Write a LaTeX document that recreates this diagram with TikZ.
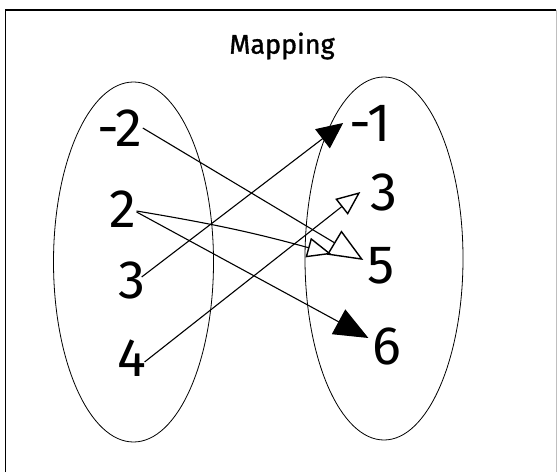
\documentclass[tikz,border=0pt]{standalone}
\usepackage{fontspec}
\setmainfont{Fira Sans}
\newfontfamily\titlefont[FakeBold=1.2]{Fira Sans}
\usetikzlibrary{arrows.meta}
\begin{document}
\begin{tikzpicture}[x=1pt,y=1pt,
  digit/.style={inner sep=0pt, font=\fontsize{54}{60}\selectfont},
  mapline/.style={line width=1.1pt},
  opentip/.style={-{Triangle[open, length=34pt, width=28pt, line width=1.4pt]}},
  opensmall/.style={-{Triangle[open, length=24pt, width=20pt, line width=1.4pt]}},
  filltip/.style={-{Triangle[length=34pt, width=28pt]}},
  fillsmall/.style={-{Triangle[length=26pt, width=24pt]}}
]
\useasboundingbox (0,0) rectangle (559,472);
\fill[white] (0,0) rectangle (559,472);
% frame
\draw[line width=1.2pt] (5.5,0) -- (5.5,462) -- (556,462);
\draw[line width=0.4pt, black!25] (556,462) -- (556,0);
% title
\node (title) at (282,426) {\titlefont\fontsize{27}{30}\selectfont Mapping};
% sets
\draw[line width=0.8pt] (133.5,210) ellipse [x radius=80, y radius=180];
\draw[line width=0.8pt] (384,213.5) ellipse [x radius=79, y radius=181.5];
% domain
\node[digit] (a1) at (120,344) {-2};
\node[digit] (a2) at (123,263) {2};
\node[digit] (a3) at (132,192) {3};
\node[digit] (a4) at (132,114) {4};
% range
\node[digit] (b1) at (370,349) {-1};
\node[digit] (b2) at (384,280) {3};
\node[digit] (b3) at (381,206) {5};
\node[digit] (b4) at (387,126) {6};
% mapping arrows
\draw[mapline, opentip] (a1.east) -- ([xshift=-4pt,yshift=6pt]b3.west);
\draw[mapline, opensmall] ([yshift=-2pt]a2.east) to[bend left=3] ([xshift=-36pt,yshift=12pt]b3.west);
\draw[mapline, filltip] ([yshift=-3pt]a2.east) -- ([xshift=-4pt,yshift=8pt]b4.west);
\draw[mapline, fillsmall] ([xshift=-4pt,yshift=3pt]a3.east) -- ([xshift=-6pt,yshift=0pt]b1.west);
\draw[mapline, opensmall] ([xshift=-2pt,yshift=-4pt]a4.east) -- ([xshift=-10pt,yshift=0pt]b2.west);
\end{tikzpicture}
\end{document}
